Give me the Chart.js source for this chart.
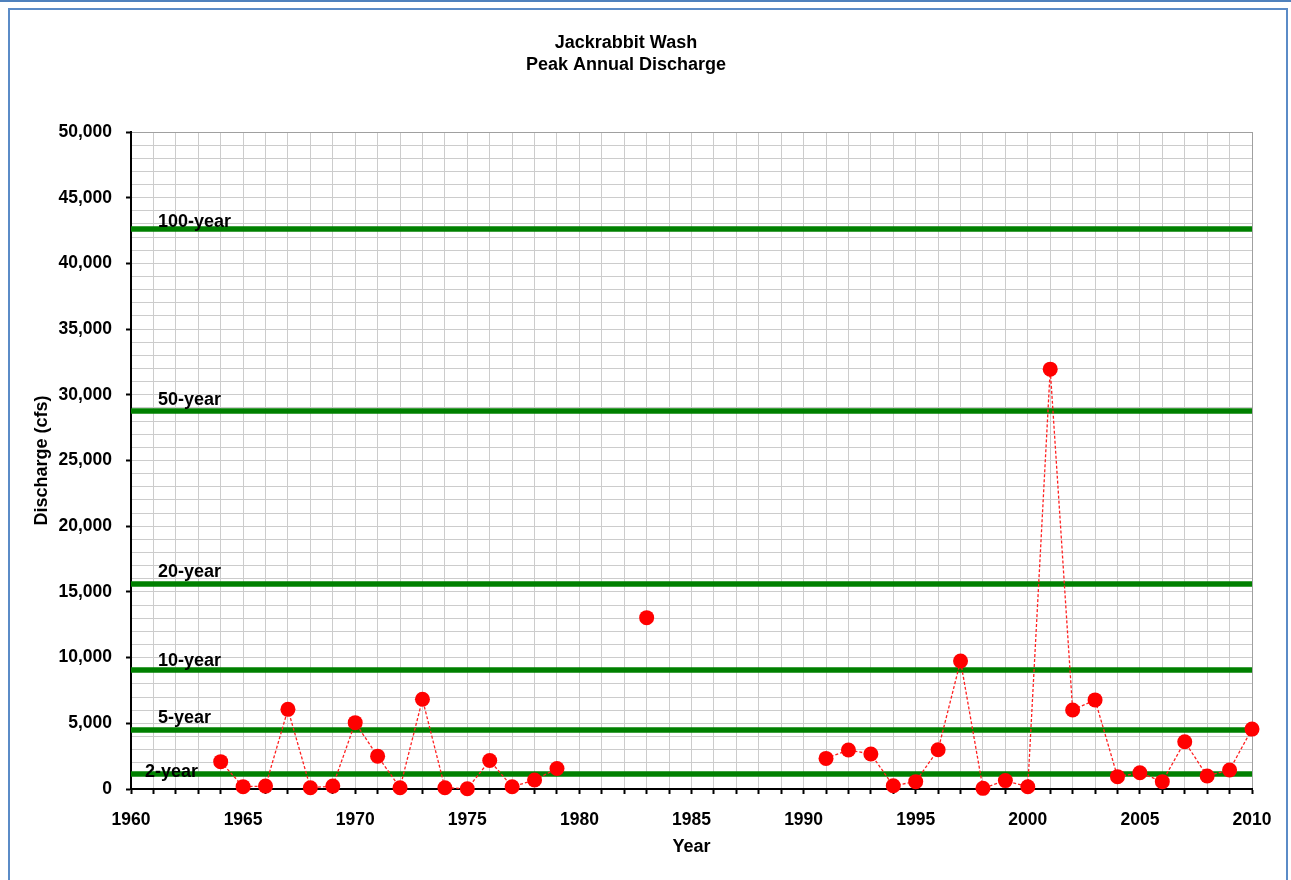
<!DOCTYPE html>
<html>
<head>
<meta charset="utf-8">
<title>Jackrabbit Wash - Peak Annual Discharge</title>
<script src="https://cdn.jsdelivr.net/npm/chart.js@4.4.1/dist/chart.umd.min.js"></script>
<style>
    html, body { margin: 0; padding: 0; background: #fff; }
    #topline { position: absolute; left: 0; top: 0; width: 1291px; height: 2px; background: #4f81bd; }
    #frame { position: absolute; left: 8px; top: 8px; width: 1280px; height: 900px; border: 2px solid #5b8bc7; box-sizing: border-box; }
    #wrap { position: absolute; left: 0; top: 0; width: 1291px; height: 880px; }
</style>
</head>
<body>
<div id="topline"></div>
<div id="frame"></div>
<div id="wrap"><canvas id="chart-peaks"></canvas></div>
<script>
// Peak annual discharge (cfs); null = no record
const years = [1964, 1965, 1966, 1967, 1968, 1969, 1970, 1971, 1972, 1973, 1974, 1975, 1976, 1977, 1978, 1979,
    1980, 1981, 1982, 1983, 1984, 1985, 1986, 1987, 1988, 1989, 1990,
    1991, 1992, 1993, 1994, 1995, 1996, 1997, 1998, 1999, 2000, 2001, 2002, 2003, 2004, 2005, 2006, 2007, 2008, 2009, 2010];
const peaks = [2080, 180, 220, 6060, 100, 220, 5050, 2500, 100, 6830, 100, 20, 2170, 170, 680, 1560,
    null, null, null, 13040, null, null, null, null, null, null, null,
    2330, 2970, 2660, 250, 560, 2990, 9740, 50, 640, 170, 31950, 6010, 6780, 940, 1240, 560, 3600, 990, 1450, 4560];

// Flood frequency levels
const returnPeriods = ['2-year', '5-year', '10-year', '20-year', '50-year', '100-year'];
const returnFlows = [1140, 4490, 9060, 15600, 28770, 42620];

const yearMin = 1960, yearMax = 2010;
const flowMax = 50000;

const FONT = 'Liberation Sans, Arial, sans-serif';

// label nudges for the return-period captions (px), like the hand-placed Excel labels
const captionDx = [14, 27, 27, 27, 27, 27];
const captionDy = [3, -7, -4, -7, -6, -2];

const captionPlugin = {
    id: 'captions',
    afterDatasetsDraw(chart) {
        const {ctx, chartArea, scales} = chart;
        ctx.save();
        ctx.font = 'bold 18px ' + FONT;
        ctx.fillStyle = '#000';
        ctx.textAlign = 'left';
        ctx.textBaseline = 'alphabetic';
        returnPeriods.forEach((p, i) => {
            const y = scales.y.getPixelForValue(returnFlows[i]);
            ctx.fillText(p, chartArea.left + captionDx[i], y + captionDy[i]);
        });
        ctx.restore();
    }
};

const levelSets = returnPeriods.map((p, i) => ({
    label: p,
    data: [{x: yearMin, y: returnFlows[i]}, {x: yearMax, y: returnFlows[i]}],
    borderColor: '#008000',
    borderWidth: 5.5,
    pointRadius: 0,
    order: 2
}));

new Chart(document.getElementById('chart-peaks'), {
    type: 'line',
    data: {
        datasets: [
            {
                label: 'Peak',
                data: years.map((yr, i) => ({x: yr, y: peaks[i]})),
                borderColor: '#ff2020',
                borderWidth: 1.3,
                borderDash: [3, 2],
                pointRadius: 7.5,
                pointBorderWidth: 0,
                pointBackgroundColor: '#ff0000',
                clip: false,
                order: 0
            },
            ...levelSets
        ]
    },
    options: {
        responsive: true,
        maintainAspectRatio: false,
        animation: false,
        layout: { padding: { left: 0, right: 39, top: 0, bottom: 0 } },
        plugins: {
            legend: { display: false },
            tooltip: { enabled: false },
            title: {
                display: true,
                text: ['Jackrabbit Wash', 'Peak Annual Discharge'],
                color: '#000',
                font: { family: FONT, size: 18, weight: 'bold', lineHeight: 1.25 },
                padding: { top: 31.75, bottom: 55.25 }
            }
        },
        scales: {
            x: {
                type: 'linear',
                min: yearMin, max: yearMax,
                afterFit(s) { s.height = 91; },
                border: { color: '#000', width: 2 },
                grid: {
                    color: c => c.tick && c.tick.value === yearMax ? '#a0a0a0' : '#cccccc',
                    lineWidth: 1,
                    tickColor: '#000',
                    tickLength: 5,
                    tickWidth: 2
                },
                ticks: {
                    stepSize: 1,
                    autoSkip: false,
                    maxRotation: 0,
                    padding: 16,
                    color: '#000',
                    font: { family: FONT, size: 17.5, weight: 'bold' },
                    callback: v => v % 5 === 0 ? String(v) : ''
                },
                title: {
                    display: true,
                    text: 'Year',
                    color: '#000',
                    font: { family: FONT, size: 18, weight: 'bold' },
                    padding: { top: 0, bottom: 21.7 }
                }
            },
            y: {
                min: 0, max: flowMax,
                afterFit(s) { s.width = 131; },
                border: { color: '#000', width: 2 },
                grid: {
                    color: c => c.tick && c.tick.value === flowMax ? '#a0a0a0' : '#cccccc',
                    lineWidth: 1,
                    tickColor: c => c.tick && c.tick.value % 5000 === 0 ? '#000' : 'rgba(0,0,0,0)',
                    tickLength: 5,
                    tickWidth: 2
                },
                ticks: {
                    stepSize: 1000,
                    autoSkip: false,
                    padding: 14,
                    color: '#000',
                    font: { family: FONT, size: 17.5, weight: 'bold' },
                    callback: v => v % 5000 === 0 ? v.toLocaleString('en-US') : ''
                },
                title: {
                    display: true,
                    text: 'Discharge (cfs)',
                    color: '#000',
                    font: { family: FONT, size: 18, weight: 'bold' },
                    padding: { top: 31.2, bottom: 0 }
                }
            }
        }
    },
    plugins: [captionPlugin]
});
</script>
</body>
</html>
